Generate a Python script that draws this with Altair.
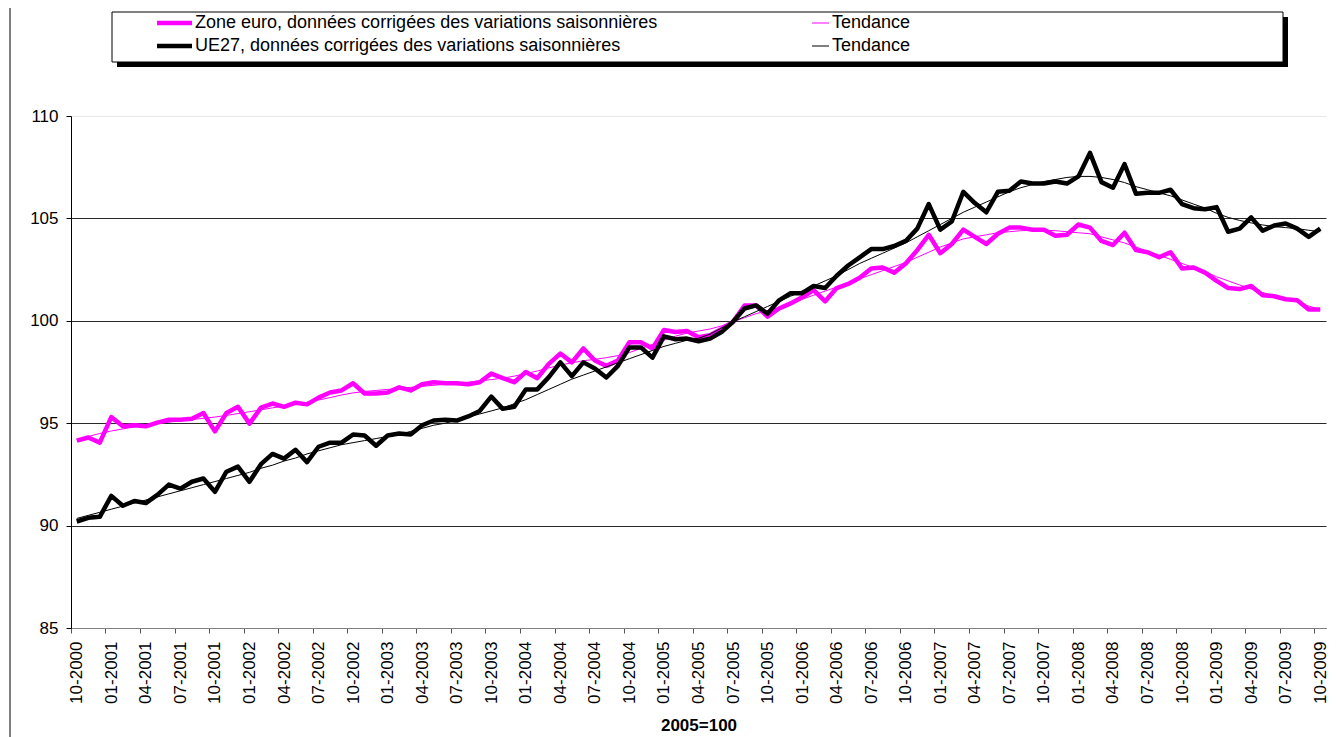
import json
import altair as alt
import pandas as pd

tick_labels = ["10-2000", "01-2001", "04-2001", "07-2001", "10-2001", "01-2002", "04-2002",
               "07-2002", "10-2002", "01-2003", "04-2003", "07-2003", "10-2003", "01-2004",
               "04-2004", "07-2004", "10-2004", "01-2005", "04-2005", "07-2005", "10-2005",
               "01-2006", "04-2006", "07-2006", "10-2006", "01-2007", "04-2007", "07-2007",
               "10-2007", "01-2008", "04-2008", "07-2008", "10-2008", "01-2009", "04-2009",
               "07-2009", "10-2009"]

euro = [94.15, 94.3, 94.05, 95.3, 94.85, 94.9, 94.85, 95.03, 95.17, 95.17, 95.22, 95.5,
        94.6, 95.5, 95.8, 94.98, 95.76, 95.96, 95.8, 96.0, 95.92, 96.25, 96.5, 96.6,
        96.95, 96.45, 96.45, 96.5, 96.75, 96.6, 96.9, 97.0, 96.95, 96.95, 96.9, 97.0,
        97.42, 97.2, 97.0, 97.5, 97.2, 97.9, 98.4, 97.97, 98.65, 98.06, 97.8, 98.06,
        98.95, 98.95, 98.65, 99.55, 99.45, 99.5, 99.2, 99.3, 99.6, 99.95, 100.75, 100.75,
        100.2, 100.6, 100.85, 101.15, 101.5, 100.95, 101.6, 101.8, 102.1, 102.55, 102.6, 102.35,
        102.8, 103.45, 104.2, 103.3, 103.75, 104.45, 104.1, 103.75, 104.25, 104.55, 104.55, 104.45,
        104.45, 104.15, 104.2, 104.7, 104.55, 103.9, 103.7, 104.3, 103.45, 103.35, 103.1, 103.35,
        102.55, 102.6, 102.35, 101.95, 101.6, 101.55, 101.7, 101.25, 101.2, 101.05, 101.0, 100.55,
        100.55]

euro_trend = [94.2, 94.35, 94.5, 94.62, 94.72, 94.82, 94.9, 94.98, 95.05, 95.12, 95.18, 95.24,
              95.3, 95.38, 95.47, 95.56, 95.65, 95.75, 95.84, 95.92, 96.02, 96.13, 96.25, 96.38,
              96.48, 96.55, 96.6, 96.65, 96.7, 96.75, 96.8, 96.85, 96.9, 96.95, 97.0, 97.06,
              97.13, 97.2, 97.3, 97.42, 97.55, 97.7, 97.84, 97.95, 98.05, 98.12, 98.2, 98.3,
              98.45, 98.65, 98.85, 99.05, 99.25, 99.4, 99.5, 99.6, 99.75, 99.95, 100.15, 100.35,
              100.5, 100.65, 100.85, 101.05, 101.25, 101.45, 101.65, 101.85, 102.05, 102.25, 102.45, 102.65,
              102.85, 103.1, 103.35, 103.6, 103.8, 104.0, 104.1, 104.2, 104.3, 104.35, 104.4, 104.42,
              104.42, 104.4, 104.35, 104.3, 104.25, 104.1, 103.95, 103.8, 103.6, 103.4, 103.2, 103.0,
              102.8, 102.6, 102.4, 102.15, 101.95, 101.75, 101.55, 101.38, 101.22, 101.07, 100.92, 100.72,
              100.55]

ue27 = [90.2, 90.38, 90.43, 91.45, 90.97, 91.2, 91.1, 91.5, 92.0, 91.8, 92.14, 92.3,
        91.65, 92.63, 92.88, 92.14, 93.0, 93.5, 93.27, 93.7, 93.1, 93.85, 94.05, 94.05,
        94.45, 94.4, 93.9, 94.4, 94.5, 94.45, 94.9, 95.13, 95.17, 95.13, 95.33, 95.6,
        96.3, 95.7, 95.8, 96.65, 96.65, 97.25, 97.97, 97.3, 97.97, 97.67, 97.23, 97.8,
        98.7, 98.7, 98.2, 99.24, 99.1, 99.13, 99.0, 99.13, 99.45, 99.95, 100.6, 100.75,
        100.35, 101.0, 101.35, 101.35, 101.7, 101.6, 102.2, 102.7, 103.1, 103.5, 103.5, 103.65,
        103.9, 104.5, 105.7, 104.45, 104.85, 106.3, 105.75, 105.3, 106.3, 106.35, 106.8, 106.7,
        106.7, 106.8, 106.7, 107.05, 108.2, 106.77, 106.5, 107.65, 106.2, 106.25, 106.25, 106.4,
        105.7, 105.5, 105.45, 105.55, 104.35, 104.5, 105.05, 104.4, 104.65, 104.75, 104.5, 104.1,
        104.5]

ue27_trend = [90.35, 90.5, 90.65, 90.8, 90.95, 91.1, 91.25, 91.4, 91.55, 91.7, 91.85, 92.0,
              92.15, 92.3, 92.45, 92.6, 92.8, 92.95, 93.15, 93.3, 93.5, 93.65, 93.8, 93.95,
              94.05, 94.15, 94.25, 94.35, 94.45, 94.6, 94.75, 94.9, 95.0, 95.15, 95.3, 95.45,
              95.6, 95.75, 95.95, 96.15, 96.4, 96.65, 96.9, 97.15, 97.35, 97.55, 97.75, 97.95,
              98.15, 98.35, 98.55, 98.75, 98.9, 99.05, 99.15, 99.35, 99.65, 99.95, 100.2, 100.45,
              100.7, 100.95, 101.2, 101.45, 101.7, 101.95, 102.2, 102.5, 102.8, 103.05, 103.3, 103.55,
              103.8, 104.1, 104.4, 104.7, 105.0, 105.3, 105.55, 105.8, 106.05, 106.3, 106.5, 106.65,
              106.8, 106.9, 107.0, 107.05, 107.05, 107.0, 106.9, 106.75, 106.55, 106.4, 106.25, 106.1,
              105.9, 105.7, 105.5, 105.25, 105.05, 104.9, 104.78, 104.68, 104.6, 104.55, 104.5, 104.42,
              104.35]

legend_labels = ["Zone euro, données corrigées des variations saisonnières", "Tendance",
                 "UE27, données corrigées des variations saisonnières", "Tendance"]

MAGENTA = "#FF00FF"
FONT = "Liberation Sans"

months = list(range(len(euro)))
df = pd.DataFrame({"m": months, "euro": euro, "euro_trend": euro_trend,
                   "ue27": ue27, "ue27_trend": ue27_trend})

label_expr = json.dumps(tick_labels) + "[round(datum.value / 3)]"

x_axis = alt.Axis(values=list(range(0, len(euro), 3)), labelExpr=label_expr,
                  labelAngle=-90, labelFontSize=17, labelFont=FONT, labelColor="black",
                  labelPadding=8, labelOverlap=False, tickOffset=-5.8, labelOffset=5.8,
                  tickSize=5, tickColor="#555", domainColor="#808080",
                  grid=False, title="2005=100", titleFont=FONT, titleFontSize=17,
                  titleFontWeight="bold", titleColor="black",
                  titleBaseline="alphabetic", titleY=102, titleX=627.5)
x_scale = alt.Scale(domain=[-0.5, len(euro) - 0.5], nice=False, zero=False)

y_axis = alt.Axis(values=[85, 90, 95, 100, 105, 110], labelFontSize=17, labelFont=FONT,
                  labelColor="black", labelPadding=8, tickSize=5, tickColor="black",
                  domainColor="black",
                  gridColor={"condition": {"test": "datum.value === 110", "value": "#e8e8e8"},
                             "value": "#2a2a2a"},
                  gridOpacity=1, title=None)
y_scale = alt.Scale(domain=[85, 110], nice=False, zero=False)


def enc(col):
    return dict(x=alt.X("m:Q", scale=x_scale, axis=x_axis),
                y=alt.Y(col + ":Q", scale=y_scale, axis=y_axis))


base = alt.Chart(df)
l_euro = base.mark_line(color=MAGENTA, strokeWidth=4.5, strokeJoin="round").encode(**enc("euro"))
l_euro_t = base.mark_line(color=MAGENTA, strokeWidth=1).encode(**enc("euro_trend"))
l_ue = base.mark_line(color="black", strokeWidth=4.5, strokeJoin="round").encode(**enc("ue27"))
l_ue_t = base.mark_line(color="black", strokeWidth=1).encode(**enc("ue27_trend"))

one = alt.Chart(alt.Data(values=[{"k": 0}]))
frame = one.mark_rule(color="black", strokeWidth=1).encode(x=alt.value(-61), y=alt.value(-108), y2=alt.value(621))
shadow = one.mark_rect(color="black").encode(x=alt.value(46), x2=alt.value(1217), y=alt.value(-99), y2=alt.value(-49))
box = one.mark_rect(fill="white", stroke="black", strokeWidth=1).encode(
    x=alt.value(41), x2=alt.value(1212), y=alt.value(-104), y2=alt.value(-54))

leg_specs = [
    (legend_labels[0], MAGENTA, 4.5, 86, 121, -93),
    (legend_labels[1], MAGENTA, 1, 741, 758, -93),
    (legend_labels[2], "black", 4.5, 86, 121, -70),
    (legend_labels[3], "black", 1, 741, 758, -70),
]
leg_layers = []
for txt, col, sw, x1, x2, yy in leg_specs:
    leg_layers.append(one.mark_rule(color=col, strokeWidth=sw).encode(
        x=alt.value(x1), x2=alt.value(x2), y=alt.value(yy)))
    leg_layers.append(one.mark_text(text=txt, align="left", baseline="middle", fontSize=18,
                                    font=FONT, color="black").encode(
        x=alt.value(x2 + 3), y=alt.value(yy)))

chart = alt.layer(l_euro, l_euro_t, l_ue, l_ue_t, frame, shadow, box, *leg_layers).properties(
    width=1255, height=512,
    padding={"left": 63, "top": 108, "right": 7, "bottom": 109},
    autosize=alt.AutoSizeParams(type="none"),
    background="white",
).configure_view(stroke=None)

chart.save("out.html", embed_options={"renderer": "svg", "actions": False})
